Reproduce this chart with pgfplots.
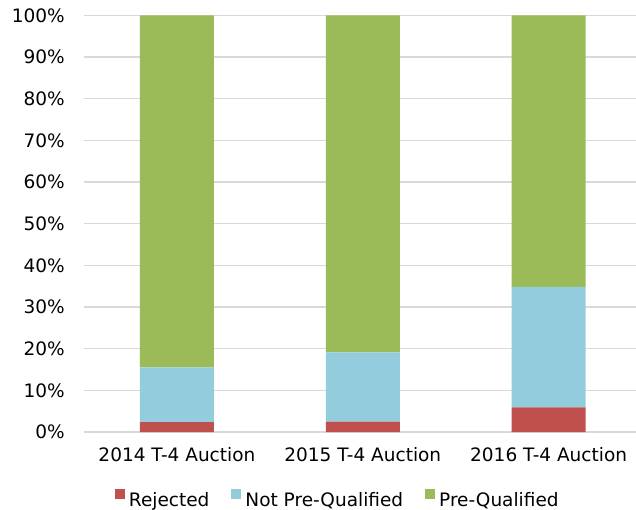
\documentclass[border=0pt]{standalone}
\usepackage{pgfplots}
\pgfplotsset{compat=1.18}
\usepackage{fontspec}
\setmainfont{DejaVu Sans}
\definecolor{cRej}{HTML}{C0504D}
\definecolor{cNPQ}{HTML}{93CDDD}
\definecolor{cPQ}{HTML}{9BBB59}
\definecolor{cGrid}{HTML}{D9D9D9}
\begin{document}
\begin{tikzpicture}[font=\fontsize{18.5bp}{22bp}\selectfont]
\begin{axis}[
  name=ax,
  scale only axis,
  width=552bp, height=416.7bp,
  ybar stacked,
  bar width=74bp,
  xmin=-0.5, xmax=2.47,
  ymin=0, ymax=100,
  enlargelimits=false,
  axis line style={draw=none},
  ymajorgrids,
  grid style={cGrid, line width=1.4bp},
  major tick length=0pt,
  xtick={0,1,2},
  xticklabels={2014 T-4 Auction,2015 T-4 Auction,2016 T-4 Auction},
  ytick={0,10,...,100},
  yticklabel={\pgfmathprintnumber{\tick}\%},
  /pgf/number format/assume math mode=true,
  yticklabel style={inner sep=0pt, anchor=east, xshift=-19bp},
  xticklabel style={inner sep=0pt, anchor=north, yshift=-15.3bp},
  legend style={at={(0.458,-0.16)}, anchor=center, draw=none, fill=none,
    legend columns=-1,
    /tikz/every odd column/.append style={column sep=4bp},
    /tikz/every even column/.append style={column sep=22bp},
    nodes={inner sep=0pt}},
  legend image code/.code={\path (0bp,0bp); \fill[#1] (0bp,1.5bp) rectangle (10bp,11.5bp);},
]
\addplot[fill=cRej, draw=none] coordinates {(0,2.4) (1,2.5) (2,5.9)};
\addplot[fill=cNPQ, draw=none] coordinates {(0,13.1) (1,16.6) (2,28.9)};
\addplot[fill=cPQ, draw=none] coordinates {(0,84.5) (1,80.9) (2,65.2)};
\legend{Rejected,Not Pre-Qualified,Pre-Qualified}
\end{axis}
\pgfresetboundingbox
\path[use as bounding box] ([xshift=-84bp,yshift=-78bp]ax.south west) rectangle ([yshift=15.3bp]ax.north east);
\end{tikzpicture}
\end{document}
